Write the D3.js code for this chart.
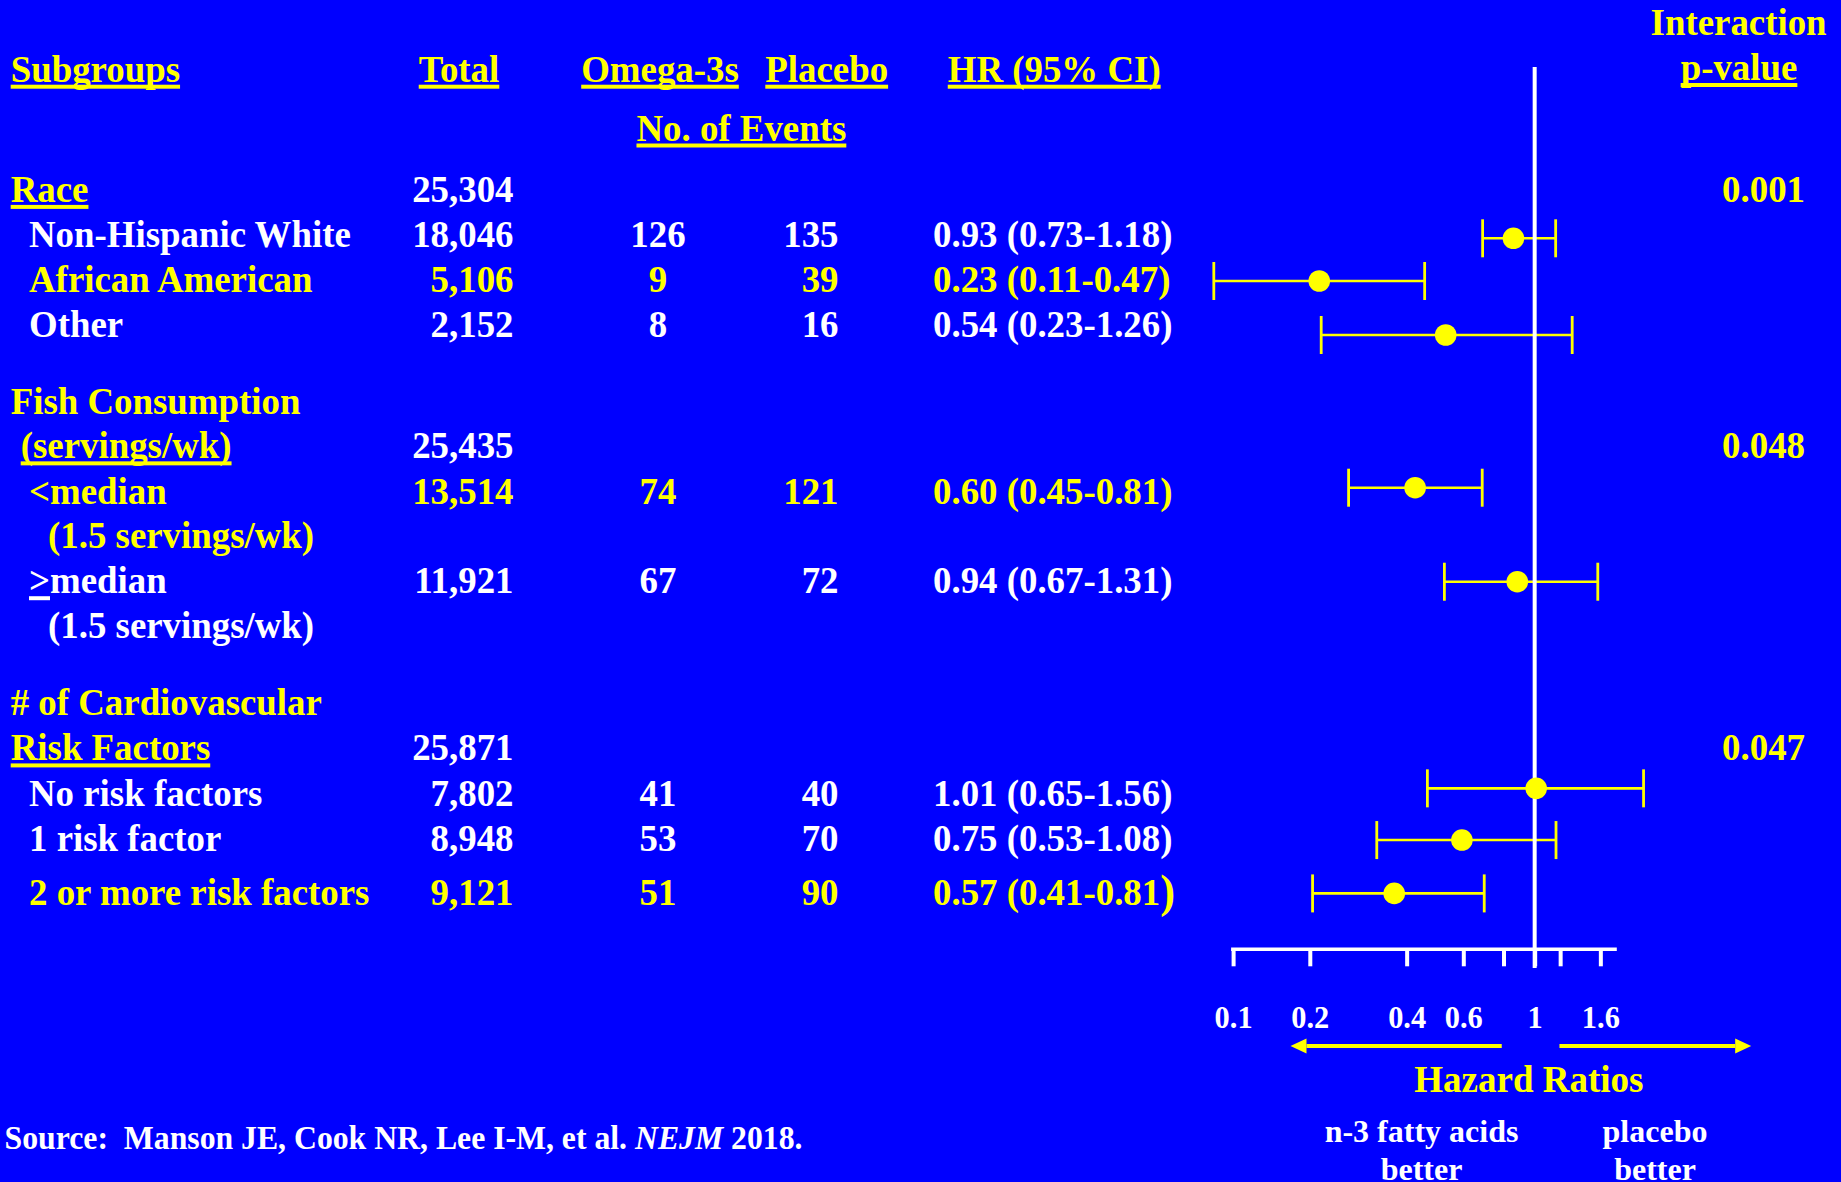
<!DOCTYPE html>
<html><head><meta charset="utf-8">
<script src="https://cdn.jsdelivr.net/npm/d3@7"></script>
<style>
html,body{margin:0;padding:0;background:#0000ff;overflow:hidden}
svg{display:block}
text{font-family:"Liberation Serif","Times New Roman",Times,serif;font-weight:bold}
</style></head><body>
<svg id="chart" width="1841" height="1182"></svg>
<script>
// ---------------- DATA ----------------
const columnHeaders = ["Subgroups", "Total", "Omega-3s", "Placebo", "HR (95% CI)"];
const eventsHeader = "No. of Events";
const pHeader = ["Interaction", "p-value"];

const subgroupLabels = ["Race", "Non-Hispanic White", "African American", "Other",
  "Fish Consumption", "(servings/wk)", "<median", "(1.5 servings/wk)", ">median", "(1.5 servings/wk)",
  "# of Cardiovascular", "Risk Factors", "No risk factors", "1 risk factor", "2 or more risk factors"];
const totals = [25304, 18046, 5106, 2152, null, 25435, 13514, null, 11921, null, null, 25871, 7802, 8948, 9121];
const omegaEvents = [null, 126, 9, 8, null, null, 74, null, 67, null, null, null, 41, 53, 51];
const placeboEvents = [null, 135, 39, 16, null, null, 121, null, 72, null, null, null, 40, 70, 90];
const hrLabels = ["", "0.93 (0.73-1.18)", "0.23 (0.11-0.47)", "0.54 (0.23-1.26)", "", "",
  "0.60 (0.45-0.81)", "", "0.94 (0.67-1.31)", "", "", "", "1.01 (0.65-1.56)", "0.75 (0.53-1.08)", "0.57 (0.41-0.81)"];
const pValues = ["0.001", "", "", "", "", "0.048", "", "", "", "", "", "0.047", "", "", ""];

// plotted markers, as drawn against the hazard-ratio axis
const plotRows = ["Non-Hispanic White", "African American", "Other", "<median", ">median",
  "No risk factors", "1 risk factor", "2 or more risk factors"];
const plotHR = [0.859, 0.214, 0.529, 0.425, 0.883, 1.011, 0.594, 0.366];
const plotLo = [0.689, 0.084, 0.217, 0.264, 0.524, 0.464, 0.323, 0.204];
const plotHi = [1.162, 0.455, 1.308, 0.687, 1.571, 2.18, 1.165, 0.697];

const tickValues = [0.1, 0.2, 0.4, 0.6, 0.8, 1, 1.2, 1.6];
const tickLabels = ["0.1", "0.2", "0.4", "0.6", "", "1", "", "1.6"];
const axisTitle = "Hazard Ratios";
const favourLeft = ["n-3 fatty acids", "better"];
const favourRight = ["placebo", "better"];
const sourceText = ["Source:  Manson JE, Cook NR, Lee I-M, et al. ", "NEJM", " 2018."];

// ---------------- LAYOUT ----------------
const W = 1841, H = 1182;
const BLUE = "#0000ff", YEL = "#ffff00", WHITE = "#ffffff";
const FS = 38, SX = 0.97;
const svg = d3.select("#chart");
svg.append("rect").attr("width", W).attr("height", H).attr("fill", BLUE);

const rowSlot = [0, 1, 2, 3, 4.689, 5.68, 6.689, 7.667, 8.667, 9.667, 11.37, 12.37, 13.37, 14.37, 15.58];
const yRow = d3.scaleLinear().domain([0, 1]).range([201.9, 247.05]);
const indentX = {h: 10.7, sub: 29, paren: 20.7, paren2: 48};
const rowIndent = ["h", "sub", "sub", "sub", "h", "paren", "sub", "paren2", "sub", "paren2", "h", "h", "sub", "sub", "sub"];
const rowColor = [YEL, WHITE, YEL, WHITE, YEL, YEL, YEL, YEL, WHITE, WHITE, YEL, YEL, WHITE, WHITE, YEL];
const labelColorOnlyRows = new Set([0, 5, 11]); // heading rows: numbers white
const underlineRows = new Set([0, 5, 11]);
const geUnderlineRow = 8;
const bigParenRow = 14;
const markerOffset = [-8.4, -10.7, -1.7, -15, -10, -15, -8.3, -9.4];

const colX = {total: 513.5, omega: 658, placebo: 838.5, hr: 933, p: 1805};

function txt(str, x, y, color, anchor, size, sx) {
  const s = sx || SX;
  const t = svg.append("text")
    .attr("transform", `translate(${x},${y}) scale(${s},1)`)
    .attr("fill", color)
    .attr("text-anchor", anchor || "start")
    .style("font-size", (size || FS) + "px")
    .text(str);
  t.node().__pos = {x, y, s};
  return t;
}

function addUnderline(textSel, color, localX0, localW) {
  const p = textSel.node().__pos;
  const bb = textSel.node().getBBox();
  const lx = localX0 != null ? localX0 : bb.x;
  const lw = localW != null ? localW : bb.width;
  svg.append("rect")
    .attr("x", p.x + lx * p.s)
    .attr("y", p.y + 3)
    .attr("width", lw * p.s)
    .attr("height", 4)
    .attr("fill", color);
}

// ---- headers ----
const headerBase = 81.7;
const headerX = [10.7, 459, 660, 826.7, 1054.2];
const headerAnchor = ["start", "middle", "middle", "middle", "middle"];
columnHeaders.forEach((h, i) => {
  const t = txt(h, headerX[i], headerBase, YEL, headerAnchor[i]);
  addUnderline(t, YEL);
});
addUnderline(txt(eventsHeader, 741.4, 140.5, YEL, "middle"), YEL);
txt(pHeader[0], 1738.6, 35, YEL, "middle");
addUnderline(txt(pHeader[1], 1739, 80, YEL, "middle"), YEL);

// ---- table rows ----
const fmt = d3.format(",");
subgroupLabels.forEach((lab, i) => {
  const y = yRow(rowSlot[i]);
  const c = rowColor[i];
  const numColor = labelColorOnlyRows.has(i) ? WHITE : c;
  const t = txt(lab, indentX[rowIndent[i]], y, c);
  if (underlineRows.has(i)) addUnderline(t, c);
  if (i === geUnderlineRow) {
    const bb = t.node().getBBox();
    addUnderline(t, c, bb.x, t.node().getSubStringLength(0, 1));
  }
  if (totals[i] != null) txt(fmt(totals[i]), colX.total, y, numColor, "end");
  if (omegaEvents[i] != null) txt(String(omegaEvents[i]), colX.omega, y, numColor, "middle");
  if (placeboEvents[i] != null) txt(String(placeboEvents[i]), colX.placebo, y, numColor, "end");
  if (hrLabels[i]) {
    if (i === bigParenRow) {
      const s = hrLabels[i];
      const t2 = txt(s.slice(0, -1), colX.hr, y, numColor);
      t2.append("tspan").style("font-size", "46px").attr("dy", 2).text(s.slice(-1));
    } else {
      txt(hrLabels[i], colX.hr, y, numColor);
    }
  }
  if (pValues[i]) txt(pValues[i], colX.p, y, YEL, "end");
});

// ---- forest plot ----
const x = d3.scaleLog().domain([0.1, 0.2, 1.8]).range([1233.1, 1309.8, 1616.8]);
const axisY = 949.3;
const capHalf = 19;
const plotIndex = plotRows.map(r => subgroupLabels.indexOf(r));
const markerY = plotIndex.map((ri, k) => 201.7 + 45 * rowSlot[ri] + markerOffset[k]);

const gW = svg.append("g");
plotRows.forEach((r, k) => {
  const y = markerY[k];
  gW.append("line").attr("x1", x(plotLo[k])).attr("x2", x(plotHi[k]))
    .attr("y1", y).attr("y2", y).attr("stroke", YEL).attr("stroke-width", 2.6);
  [plotLo[k], plotHi[k]].forEach(v => {
    gW.append("line").attr("x1", x(v)).attr("x2", x(v))
      .attr("y1", y - capHalf).attr("y2", y + capHalf)
      .attr("stroke", YEL).attr("stroke-width", 2.8);
  });
});

// reference line at HR = 1
svg.append("line").attr("x1", x(1)).attr("x2", x(1)).attr("y1", 67).attr("y2", 968)
  .attr("stroke", WHITE).attr("stroke-width", 4);

const gP = svg.append("g");
plotRows.forEach((r, k) => {
  gP.append("circle").attr("cx", x(plotHR[k])).attr("cy", markerY[k]).attr("r", 10.8).attr("fill", YEL);
});

// axis
const axis = d3.axisBottom(x).tickValues(tickValues)
  .tickFormat((d, i) => tickLabels[i]).tickSize(17).tickSizeOuter(0);
const gA = svg.append("g").attr("transform", `translate(0,${axisY})`).call(axis);
gA.select(".domain").attr("stroke", WHITE).attr("stroke-width", 3.6).attr("d", `M${x(0.1) - 2},0H${x(1.8)}`);
gA.selectAll(".tick line").attr("stroke", WHITE).attr("stroke-width", 4);
gA.selectAll(".tick text").attr("fill", WHITE).attr("y", 0).attr("dy", 0)
  .attr("transform", `translate(0,${1028.3 - axisY}) scale(0.95,1)`)
  .style("font-size", "32px").style("font-family", "'Liberation Serif','Times New Roman',serif")
  .style("font-weight", "bold");

// direction arrows
const arrowY = 1046;
function arrow(fromV, toV) {
  const x0 = x(fromV), x1 = x(toV);
  const dir = Math.sign(x1 - x0);
  const hl = 16, hh = 7.5;
  svg.append("line").attr("x1", x0).attr("x2", x1 - dir * hl).attr("y1", arrowY).attr("y2", arrowY)
    .attr("stroke", YEL).attr("stroke-width", 4.2);
  svg.append("path")
    .attr("d", `M${x1},${arrowY}L${x1 - dir * hl},${arrowY - hh}L${x1 - dir * hl},${arrowY + hh}Z`)
    .attr("fill", YEL);
}
arrow(0.79, 0.168);
arrow(1.194, 4.71);

txt(axisTitle, 1528.9, 1091.7, YEL, "middle", 37, 1.0);
txt(favourLeft[0], 1421.5, 1141.7, WHITE, "middle", 32, 1.0);
txt(favourLeft[1], 1421.5, 1180, WHITE, "middle", 32, 1.0);
txt(favourRight[0], 1655, 1141.7, WHITE, "middle", 32, 1.0);
txt(favourRight[1], 1655, 1180, WHITE, "middle", 32, 1.0);

// source
const src = svg.append("text").attr("transform", "translate(4.6,1149) scale(0.962,1)").attr("fill", WHITE)
  .style("font-size", "33px").style("white-space", "pre");
src.append("tspan").text(sourceText[0]);
src.append("tspan").style("font-style", "italic").text(sourceText[1]);
src.append("tspan").text(sourceText[2]);
</script>
</body></html>
